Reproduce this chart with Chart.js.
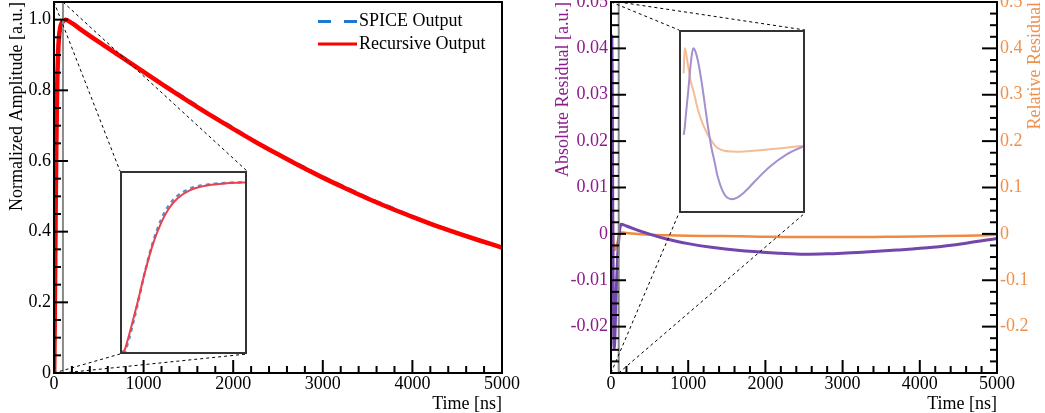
<!DOCTYPE html>
<html>
<head>
<meta charset="utf-8">
<script src="https://cdn.jsdelivr.net/npm/chart.js@4.4.1/dist/chart.umd.min.js"></script>
<style>
  html, body { margin: 0; padding: 0; background: #fff; }
  #page { position: relative; width: 1045px; height: 413px; overflow: hidden; }
  .panel { position: absolute; top: 0; height: 413px; overflow: hidden; }
  .panel canvas { position: absolute; top: -18px; left: 0; }
  .inset { position: absolute; border: 2px solid #333; background: #fff; box-sizing: border-box; }
  .inset canvas { display: block; }
</style>
</head>
<body>
<div id="page">
  <div class="panel" style="left:0;width:522px"><canvas id="ampChart" width="540" height="431"></canvas></div>
  <div class="panel" style="left:520px;width:525px"><canvas id="resChart" width="525" height="431"></canvas></div>
  <div class="inset" style="left:120px;top:171px;width:127px;height:183px"><canvas id="ampInset" width="123" height="179"></canvas></div>
  <div class="inset" style="left:679px;top:30px;width:126px;height:183px"><canvas id="resInset" width="122" height="179"></canvas></div>
</div>
<script>
// pulse: time [ns] and normalized amplitude
const timeNs = [0, 2, 5, 8, 13, 18, 25, 32, 38, 45, 55, 70, 85, 100, 130, 200, 300, 500, 750,
  1000, 1250, 1500, 1750, 2000, 2250, 2500, 2750, 3000, 3250, 3500, 3750, 4000, 4250, 4500, 4750, 5000];
const recursiveOut = [0, 0.01, 0.08, 0.16, 0.30, 0.45, 0.63, 0.76, 0.84, 0.90, 0.948, 0.978, 0.99, 0.995, 1.0, 0.99, 0.972, 0.937, 0.895,
  0.852, 0.81, 0.769, 0.729, 0.691, 0.654, 0.619, 0.585, 0.553, 0.523, 0.494, 0.467, 0.442, 0.418, 0.396, 0.375, 0.355];
const spiceOut = [0, 0.0, 0.06, 0.14, 0.29, 0.45, 0.64, 0.78, 0.86, 0.915, 0.958, 0.982, 0.992, 0.996, 1.0, 0.992, 0.973, 0.938, 0.897,
  0.853, 0.812, 0.772, 0.731, 0.694, 0.655, 0.620, 0.588, 0.555, 0.526, 0.496, 0.470, 0.443, 0.419, 0.397, 0.375, 0.355];

// residuals
const resTimeNs = [2.2, 3, 4, 6, 8, 10, 12, 14, 16.8, 19.5, 22, 24.8, 27.5, 30, 35.5, 42, 46, 51.5, 62, 73, 86, 100,
  115, 130, 200, 400, 720, 1000, 1300, 1670, 1930, 2200, 2500, 2800, 3300, 3700, 4170, 4600, 5000];
const absResidual = [0.004, 0.007, 0.013, 0.024, 0.036, 0.0427, 0.041, 0.0368, 0.028, 0.0178, 0.008, -0.0013, -0.008, -0.0145,
  -0.0225, -0.0247, -0.024, -0.0218, -0.0159, -0.0101, -0.0049, -0.0013,
  0.0012, 0.0021, 0.0017, 0.0005, -0.0011, -0.0021, -0.0029, -0.0036, -0.0039, -0.0042, -0.0044, -0.0043, -0.0039, -0.0035, -0.0029, -0.002, -0.001];
const relResidual = [0.316, 0.427, 0.41, 0.342, 0.28, 0.24, 0.195, 0.15, 0.104, 0.068, 0.04, 0.016, -0.0055, -0.018,
  -0.031, -0.034, -0.035, -0.034, -0.030, -0.024, -0.017, -0.008,
  -0.001, 0.003, 0.002, -0.001, -0.003, -0.004, -0.0045, -0.005, -0.006, -0.0065, -0.007, -0.007, -0.007, -0.006, -0.005, -0.004, -0.002];

const SERIF = '"Liberation Serif", "Times New Roman", serif';
const PURPLE_TXT = '#8c1c8c';
const ORANGE_TXT = '#f0904c';
const SHIFT = 18; // canvas is pushed up by this much so top labels get cut like the original

const pts = (xs, ys) => xs.map((x, i) => ({ x: x, y: ys[i] }));
const fmt = (d, min) => v => (Math.abs(v - min) < 1e-9 && min !== 0) ? '' : (Math.abs(v) < 1e-9 ? '0' : v.toFixed(d));

function xScale() {
  return {
    type: 'linear', min: 0, max: 5000, position: 'bottom',
    grid: { display: false, drawTicks: false }, border: { display: false },
    ticks: { stepSize: 1000, maxRotation: 0, autoSkip: false, padding: 0, color: '#000',
      font: { family: SERIF, size: 18 }, callback: v => String(v) },
    title: { display: true, text: 'Time [ns]', align: 'end', color: '#000', padding: 0,
      font: { family: SERIF, size: 18, lineHeight: 1 } },
    afterFit: s => { s.height = 40; }
  };
}

// ROOT-like frame: inward ticks, zoom box edge, dashed connectors to the inset
function makeFrame(cfg) {
  return {
    id: 'rootFrame',
    afterDatasetsDraw(chart) {
      const ctx = chart.ctx, a = chart.chartArea, xs = chart.scales.x;
      ctx.save();
      const x0 = xs.getPixelForValue(0), x1 = xs.getPixelForValue(100);
      ctx.strokeStyle = '#8a8a8a'; ctx.lineWidth = 2;
      ctx.beginPath(); ctx.moveTo(x1, a.top); ctx.lineTo(x1, a.bottom); ctx.stroke();

      const r = cfg.inset;
      const L = r.left - cfg.panelLeft, R = L + r.width, T = r.top + SHIFT, B = T + r.height;
      ctx.strokeStyle = '#000'; ctx.lineWidth = 1; ctx.setLineDash([3, 3]);
      ctx.beginPath();
      ctx.moveTo(x0, a.top); ctx.lineTo(L, T);
      ctx.moveTo(x1, a.top); ctx.lineTo(R, T);
      ctx.moveTo(x0, a.bottom); ctx.lineTo(L, B);
      ctx.moveTo(x1, a.bottom); ctx.lineTo(R, B);
      ctx.stroke();
      ctx.setLineDash([]);

      ctx.strokeStyle = '#000'; ctx.lineWidth = 2;
      ctx.strokeRect(a.left, a.top, a.right - a.left, a.bottom - a.top);
      cfg.ticks.forEach(t => {
        const s = chart.scales[t.scale];
        const n = Math.round((s.max - s.min) / t.minor);
        for (let k = 0; k <= n; k++) {
          const p = s.getPixelForValue(s.min + k * t.minor);
          const len = k % t.every === 0 ? t.lenMajor : t.lenMinor;
          ctx.beginPath();
          if (t.side === 'left') { ctx.moveTo(a.left, p); ctx.lineTo(a.left + len, p); }
          if (t.side === 'right') { ctx.moveTo(a.right, p); ctx.lineTo(a.right - len, p); }
          if (t.side === 'bottom') { ctx.moveTo(p, a.bottom); ctx.lineTo(p, a.bottom - len); }
          ctx.stroke();
        }
      });
      ctx.restore();
    },
    afterDraw(chart) {
      const ctx = chart.ctx;
      ctx.save();
      ctx.font = '18px ' + SERIF;
      ctx.textBaseline = 'middle';
      if (cfg.legend) {
        ctx.lineWidth = 3;
        ctx.strokeStyle = '#1f77d0'; ctx.setLineDash([13, 13]);
        ctx.beginPath(); ctx.moveTo(318, 21.5 + SHIFT); ctx.lineTo(358, 21.5 + SHIFT); ctx.stroke();
        ctx.setLineDash([]);
        ctx.strokeStyle = '#ff0000';
        ctx.beginPath(); ctx.moveTo(318, 44 + SHIFT); ctx.lineTo(357, 44 + SHIFT); ctx.stroke();
        ctx.fillStyle = '#000'; ctx.textAlign = 'left';
        ctx.fillText('SPICE Output', 359, 21.5 + SHIFT);
        ctx.fillText('Recursive Output', 359, 44 + SHIFT);
      }
      if (cfg.rightTitle) {
        ctx.translate(chart.width - 10, 2 + SHIFT);
        ctx.rotate(-Math.PI / 2);
        ctx.fillStyle = ORANGE_TXT; ctx.textAlign = 'right';
        ctx.fillText(cfg.rightTitle, 0, 0);
      }
      ctx.restore();
    }
  };
}

const base = {
  responsive: false, animation: false, devicePixelRatio: 1,
  elements: { point: { radius: 0 }, line: { cubicInterpolationMode: 'monotone', fill: false } },
  plugins: { legend: { display: false }, tooltip: { enabled: false } }
};

new Chart(document.getElementById('ampChart'), {
  type: 'line',
  data: { datasets: [
    { label: 'Recursive Output', data: pts(timeNs, recursiveOut), borderColor: '#ff0000', borderWidth: 4.5, order: 0 },
    { label: 'SPICE Output', data: pts(timeNs, spiceOut), borderColor: '#1f77d0', borderWidth: 3, borderDash: [8, 6], order: 1 }
  ]},
  options: Object.assign({}, base, {
    layout: { padding: { top: 20, right: 38, left: 0, bottom: 0 } },
    scales: {
      x: xScale(),
      y: {
        min: 0, max: 1.05,
        grid: { display: false, drawTicks: false }, border: { display: false },
        ticks: { stepSize: 0.2, includeBounds: false, padding: 3, color: '#000',
          font: { family: SERIF, size: 18 }, callback: v => Math.abs(v) < 1e-9 ? '0' : v.toFixed(1) },
        title: { display: true, text: 'Normalized Amplitude [a.u.]', align: 'end', color: '#000',
          padding: { top: 8.5, bottom: 0 }, font: { family: SERIF, size: 18, lineHeight: 1 } },
        afterFit: s => { s.width = 54; }
      }
    }
  }),
  plugins: [makeFrame({
    panelLeft: 0, legend: true,
    inset: { left: 120, top: 171, width: 127, height: 183 },
    ticks: [
      { scale: 'y', side: 'left', minor: 0.05, every: 4, lenMajor: 14, lenMinor: 7 },
      { scale: 'x', side: 'bottom', minor: 200, every: 5, lenMajor: 13, lenMinor: 7 }
    ]
  })]
});

new Chart(document.getElementById('resChart'), {
  type: 'line',
  data: { datasets: [
    { label: 'Absolute Residual', data: pts(resTimeNs, absResidual), borderColor: '#7246aa', borderWidth: 3, yAxisID: 'y' },
    { label: 'Relative Residual', data: pts(resTimeNs, relResidual), borderColor: '#f08a42', borderWidth: 2.5, yAxisID: 'y2' }
  ]},
  options: Object.assign({}, base, {
    layout: { padding: { top: 20, right: 0, left: 0, bottom: 0 } },
    scales: {
      x: xScale(),
      y: {
        position: 'left', min: -0.03, max: 0.05,
        grid: { display: false, drawTicks: false }, border: { display: false },
        ticks: { stepSize: 0.01, padding: 3, color: PURPLE_TXT,
          font: { family: SERIF, size: 18 }, callback: fmt(2, -0.03) },
        title: { display: true, text: 'Absolute Residual [a.u.]', align: 'end', color: PURPLE_TXT,
          padding: { top: 34, bottom: 0 }, font: { family: SERIF, size: 18, lineHeight: 1 } },
        afterFit: s => { s.width = 91; }
      },
      y2: {
        position: 'right', min: -0.3, max: 0.5,
        grid: { display: false, drawTicks: false }, border: { display: false },
        ticks: { stepSize: 0.1, padding: 3, color: ORANGE_TXT,
          font: { family: SERIF, size: 18 }, callback: fmt(1, -0.3) },
        afterFit: s => { s.width = 48; }
      }
    }
  }),
  plugins: [makeFrame({
    panelLeft: 520, rightTitle: 'Relative Residual',
    inset: { left: 679, top: 30, width: 126, height: 183 },
    ticks: [
      { scale: 'y', side: 'left', minor: 0.0025, every: 4, lenMajor: 15, lenMinor: 8 },
      { scale: 'y2', side: 'right', minor: 0.025, every: 4, lenMajor: 15, lenMinor: 7 },
      { scale: 'x', side: 'bottom', minor: 200, every: 5, lenMajor: 13, lenMinor: 7 }
    ]
  })]
});

// insets: first 100 ns of each panel
const insetOpts = extra => Object.assign({}, base, { layout: { padding: 0 }, scales: Object.assign({
  x: { type: 'linear', min: 0, max: 100, display: false } }, extra) });

new Chart(document.getElementById('ampInset'), {
  type: 'line',
  data: { datasets: [
    { data: pts(timeNs, recursiveOut), borderColor: '#e8414f', borderWidth: 2, order: 0 },
    { data: pts(timeNs, spiceOut), borderColor: '#5a8fd0', borderWidth: 2.5, borderDash: [4, 4], order: 1 }
  ]},
  options: insetOpts({ y: { min: 0, max: 1.05, display: false } })
});

new Chart(document.getElementById('resInset'), {
  type: 'line',
  data: { datasets: [
    { data: pts(resTimeNs, absResidual), borderColor: '#a48fcf', borderWidth: 2, yAxisID: 'y' },
    { data: pts(resTimeNs, relResidual), borderColor: '#f4bd95', borderWidth: 2, yAxisID: 'y2' }
  ]},
  options: insetOpts({
    y: { min: -0.03, max: 0.05, display: false },
    y2: { min: -0.3, max: 0.5, display: false, position: 'right' }
  })
});
</script>
</body>
</html>
